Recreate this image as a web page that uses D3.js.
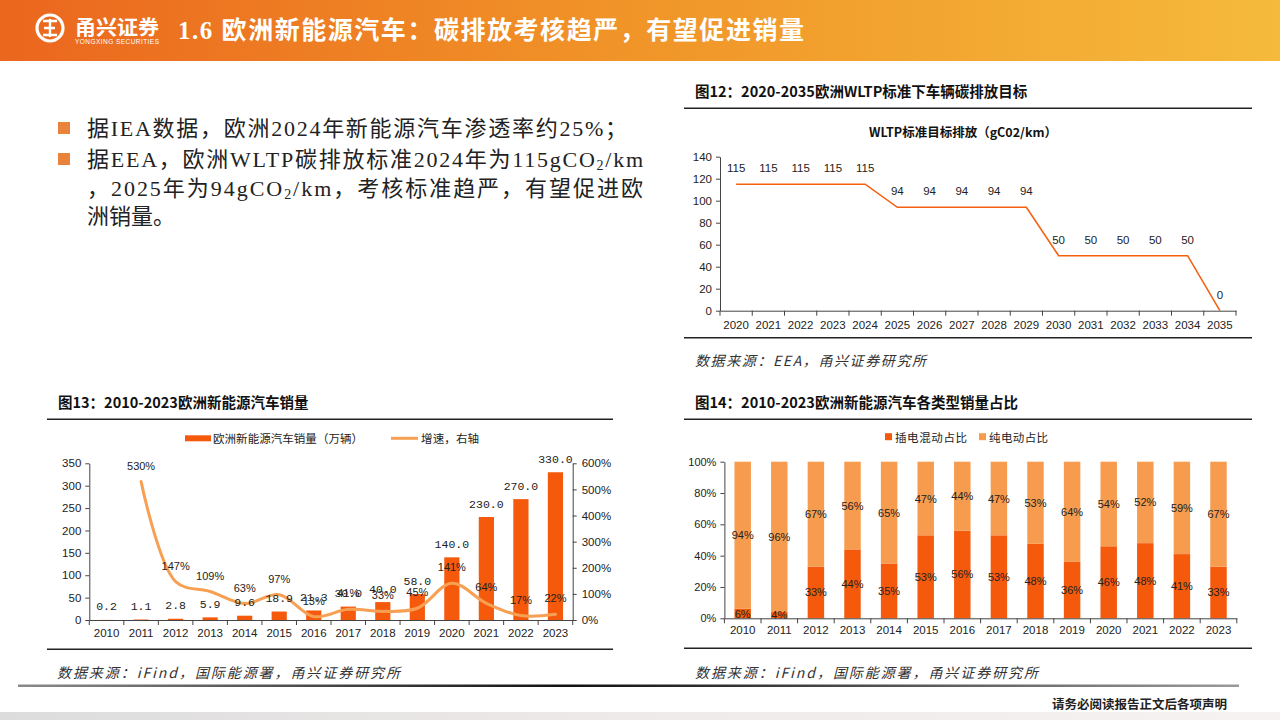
<!DOCTYPE html>
<html><head><meta charset="utf-8">
<script src="https://cdn.jsdelivr.net/npm/d3@7"></script>
<style>
html,body{margin:0;padding:0;background:#fff;}
svg{display:block;}
</style></head>
<body>
<svg id="c" width="1280" height="720"></svg>
<script>
// ---------- DATA ----------
const wltpYears = ['2020','2021','2022','2023','2024','2025','2026','2027','2028','2029','2030','2031','2032','2033','2034','2035'];
const wltpValues = [115,115,115,115,115,94,94,94,94,94,50,50,50,50,50,0];
const wltpTicks = [0,20,40,60,80,100,120,140];

const salesYears = ['2010','2011','2012','2013','2014','2015','2016','2017','2018','2019','2020','2021','2022','2023'];
const salesValues = [0.2,1.1,2.8,5.9,9.6,18.9,21.3,30.0,40.0,58.0,140.0,230.0,270.0,330.0];
const growthValues = [null,530,147,109,63,97,13,41,33,45,141,64,17,22];
const salesTicks = [0,50,100,150,200,250,300,350];
const growthTicks = [0,100,200,300,400,500,600];

const mixYears = ['2010','2011','2012','2013','2014','2015','2016','2017','2018','2019','2020','2021','2022','2023'];
const phevShare = [6,4,33,44,35,53,56,53,48,36,46,48,41,33];
const bevShare = [94,96,67,56,65,47,44,47,53,64,54,52,59,67];
const shareTicks = [0,20,40,60,80,100];

// ---------- STYLE ----------
const CJK = '"Noto Sans CJK SC","Noto Sans",sans-serif';
const SANS = '"Liberation Sans",Arial,"Noto Sans CJK SC",sans-serif';
const MONO = '"Liberation Mono","DejaVu Sans Mono",monospace';
const SERIF = '"Liberation Serif","Times New Roman","Noto Sans CJK SC",serif';
const cRed = '#F55A0C', cLight = '#F79C4E', cLine = '#F7A054';

const svg = d3.select('#c');
const defs = svg.append('defs');

// ---------- HEADER ----------
const hg = defs.append('linearGradient').attr('id','hdr').attr('x1','0').attr('x2','1').attr('y1','0').attr('y2','0');
hg.append('stop').attr('offset','0').attr('stop-color','#EB661E');
hg.append('stop').attr('offset','0.45').attr('stop-color','#F09127');
hg.append('stop').attr('offset','1').attr('stop-color','#F5BA3B');
svg.append('rect').attr('x',0).attr('y',0).attr('width',1280).attr('height',61).attr('fill','url(#hdr)');

// logo
const logo = svg.append('g').attr('fill','none').attr('stroke','#fff');
logo.append('circle').attr('cx',50).attr('cy',28).attr('r',13).attr('stroke-width',3.2);
logo.append('path').attr('d','M43 21 H57 M44 28 H55 M43 35 H57 M50 19 V37').attr('stroke-width',2.4);
svg.append('text').attr('x',75).attr('y',26).attr('dominant-baseline','central')
  .attr('font-family',CJK).attr('font-weight',700).attr('font-size',20).attr('fill','#fff')
  .attr('textLength',84).attr('lengthAdjust','spacingAndGlyphs').text('甬兴证券');
svg.append('text').attr('x',75).attr('y',41).attr('dominant-baseline','central')
  .attr('font-family',SANS).attr('font-size',6.5).attr('fill','#fff')
  .attr('textLength',84).text('YONGXING SECURITIES');
svg.append('text').attr('x',178).attr('y',30).attr('dominant-baseline','central')
  .attr('font-family',SERIF).attr('font-weight',700).attr('font-size',25).attr('fill','#fff')
  .attr('textLength',626).attr('lengthAdjust','spacing')
  .text('1.6 欧洲新能源汽车：碳排放考核趋严，有望促进销量');

// ---------- BULLETS ----------
const bullets = svg.append('g').attr('font-family',SERIF).attr('font-size',22).attr('fill','#222');
[[128],[159]].forEach(([y])=>{
  svg.append('rect').attr('x',58).attr('y',y-6).attr('width',12).attr('height',12).attr('fill','#E9833A');
});
function subText(g, y, parts, len){
  const t = g.append('text').attr('x',87).attr('y',y).attr('dominant-baseline','central');
  if(len) t.attr('textLength',len).attr('lengthAdjust','spacing');
  let sub=false;
  parts.forEach(p=>{
    if(typeof p==='string'){ const s=t.append('tspan').text(p); if(sub){s.attr('dy',-6); sub=false;} }
    else { t.append('tspan').attr('font-size',14).attr('dy',6).text(p.sub); sub=true; }
  });
  return t;
}
subText(bullets,128,['据IEA数据，欧洲2024年新能源汽车渗透率约25%；'],540);
subText(bullets,159,['据EEA，欧洲WLTP碳排放标准2024年为115gCO',{sub:'2'},'/km'],556);
subText(bullets,188,['，2025年为94gCO',{sub:'2'},'/km，考核标准趋严，有望促进欧'],556);
subText(bullets,216,['洲销量。']);

// ---------- helpers ----------
function hline(x1,x2,y,w,c){svg.append('line').attr('x1',x1).attr('x2',x2).attr('y1',y).attr('y2',y).attr('stroke',c||'#222').attr('stroke-width',w||1.5);}
function txt(x,y,s,opt){
  opt=opt||{};
  const t=svg.append('text').attr('x',x).attr('y',y).attr('dominant-baseline','central')
    .attr('font-family',opt.family||SANS).attr('font-size',opt.size||12).attr('fill',opt.fill||'#222')
    .attr('text-anchor',opt.anchor||'start').text(s);
  if(opt.weight) t.attr('font-weight',opt.weight);
  if(opt.italic) t.attr('font-style','italic');
  if(opt.len) t.attr('textLength',opt.len).attr('lengthAdjust',opt.adj||'spacing');
  return t;
}
function leftAxis(scale, x, ticks, fmt, size){
  const g = svg.append('g').attr('transform',`translate(${x},0)`)
    .call(d3.axisLeft(scale).tickValues(ticks).tickSize(4).tickSizeOuter(0).tickPadding(4).tickFormat(fmt));
  g.select('.domain').attr('stroke','#444');
  g.selectAll('.tick line').attr('stroke','#444');
  g.selectAll('text').attr('font-family',SANS).attr('font-size',size||11.5).attr('fill','#222');
  return g;
}
function rightAxis(scale, x, ticks, fmt, size){
  const g = svg.append('g').attr('transform',`translate(${x},0)`)
    .call(d3.axisRight(scale).tickValues(ticks).tickSize(4).tickSizeOuter(0).tickPadding(5).tickFormat(fmt));
  g.select('.domain').attr('stroke','#444');
  g.selectAll('.tick line').attr('stroke','#444');
  g.selectAll('text').attr('font-family',SANS).attr('font-size',size||11.5).attr('fill','#222');
  return g;
}
function bandAxis(xs, y, labelY, size){
  const [r0,r1] = xs.range();
  const g = svg.append('g').attr('transform',`translate(0,${y})`)
    .call(d3.axisBottom(xs).tickSize(0).tickSizeOuter(0).tickPadding(0));
  g.select('.domain').attr('stroke','#444');
  g.selectAll('.tick text').attr('y',labelY-y).attr('dy',null).attr('dominant-baseline','central')
    .attr('font-family',SANS).attr('font-size',size||11.5).attr('fill','#222');
  const n = xs.domain().length;
  const bx = xs.domain().map((d,i)=>r0 + i*((r1-r0)/n)).concat([r1]);
  g.selectAll('line.bt').data(bx).join('line').attr('class','bt')
    .attr('x1',d=>d).attr('x2',d=>d).attr('y1',0).attr('y2',5).attr('stroke','#444');
  return g;
}

// ---------- CHART 12 ----------
txt(695,90,'图12：2020-2035欧洲WLTP标准下车辆碳排放目标',{family:CJK,size:14.5,weight:700,fill:'#111'});
hline(684,1252,108.3,1.6);
txt(963,131.7,'WLTP标准目标排放（gC02/km）',{family:CJK,size:12.5,weight:700,anchor:'middle',fill:'#111'});
const x12 = d3.scaleBand().domain(wltpYears).range([720,1236]);
const y12 = d3.scaleLinear().domain([0,140]).range([310.7,156.7]);
leftAxis(y12,720,wltpTicks,d=>d,11.5);
bandAxis(x12,310.7,325,11.5);
svg.append('path').datum(wltpValues)
  .attr('d',d3.line().x((d,i)=>x12(wltpYears[i])+x12.bandwidth()/2).y(d=>y12(d)))
  .attr('fill','none').attr('stroke','#F5600F').attr('stroke-width',1.6);
svg.append('g').selectAll('text').data(wltpValues).join('text')
  .attr('x',(d,i)=>x12(wltpYears[i])+x12.bandwidth()/2).attr('y',d=>y12(d)-16)
  .attr('text-anchor','middle').attr('dominant-baseline','central')
  .attr('font-family',SANS).attr('font-size',11.5).attr('fill','#222').text(d=>d);
hline(684,1252,337.7,1.6);
txt(695,360,'数据来源：EEA，甬兴证券研究所',{family:CJK,size:14,italic:true,fill:'#333',len:231});

// ---------- CHART 13 ----------
txt(58,401.7,'图13：2010-2023欧洲新能源汽车销量',{family:CJK,size:14.5,weight:700,fill:'#111'});
hline(47,613,419.3,1.6);
svg.append('rect').attr('x',185).attr('y',435.3).attr('width',26).attr('height',6).attr('fill',cRed);
txt(213,438.3,'欧洲新能源汽车销量（万辆）',{family:CJK,size:11.5,fill:'#222',len:150});
svg.append('line').attr('x1',391).attr('x2',418).attr('y1',438.3).attr('y2',438.3).attr('stroke',cLine).attr('stroke-width',3);
txt(421,438.3,'增速，右轴',{family:CJK,size:11.5,fill:'#222',len:58});

const x13 = d3.scaleBand().domain(salesYears).range([89.3,572.7]).paddingInner(0.56).paddingOuter(0.28);
const y13 = d3.scaleLinear().domain([0,350]).range([620,463.3]);
const y13r = d3.scaleLinear().domain([0,600]).range([620,463.3]);
svg.append('g').selectAll('rect').data(salesValues).join('rect')
  .attr('x',(d,i)=>x13(salesYears[i])).attr('width',x13.bandwidth())
  .attr('y',d=>y13(d)).attr('height',d=>620-y13(d)).attr('fill',cRed);
leftAxis(y13,89.3,salesTicks,d=>d,11.5);
rightAxis(y13r,572.7,growthTicks,d=>d+'%',11.5);
bandAxis(x13,620,632.7,11.5);
const gp = growthValues.map((v,i)=>v==null?null:[x13(salesYears[i])+x13.bandwidth()/2, y13r(v)]).filter(d=>d);
svg.append('path').datum(gp).attr('d',d3.line().curve(d3.curveCatmullRom.alpha(0.5)))
  .attr('fill','none').attr('stroke',cLine).attr('stroke-width',3).attr('stroke-linecap','round');
svg.append('g').selectAll('text').data(salesValues).join('text')
  .attr('x',(d,i)=>x13(salesYears[i])+x13.bandwidth()/2).attr('y',d=>y13(d)-13)
  .attr('text-anchor','middle').attr('dominant-baseline','central')
  .attr('font-family',MONO).attr('font-size',11.5).attr('fill','#222').text(d=>d.toFixed(1));
svg.append('g').selectAll('text').data(growthValues.map((v,i)=>[v,i]).filter(d=>d[0]!=null)).join('text')
  .attr('x',d=>x13(salesYears[d[1]])+x13.bandwidth()/2).attr('y',d=>y13r(d[0])-16)
  .attr('text-anchor','middle').attr('dominant-baseline','central')
  .attr('font-family',SANS).attr('font-size',11).attr('fill','#222').text(d=>d[0]+'%');
hline(47,613,649.3,1.6);
txt(57,672,'数据来源：iFind，国际能源署，甬兴证券研究所',{family:CJK,size:14,italic:true,fill:'#333',len:343});

// ---------- CHART 14 (100% stacked) ----------
txt(695,401.7,'图14：2010-2023欧洲新能源汽车各类型销量占比',{family:CJK,size:14.5,weight:700,fill:'#111'});
hline(684,1252,419.3,1.6);
svg.append('rect').attr('x',885).attr('y',433.2).attr('width',7).attr('height',7).attr('fill',cRed);
txt(895,436.7,'插电混动占比',{family:CJK,size:11.5,fill:'#222',len:72});
svg.append('rect').attr('x',979).attr('y',433.2).attr('width',7).attr('height',7).attr('fill',cLight);
txt(989,436.7,'纯电动占比',{family:CJK,size:11.5,fill:'#222',len:59});

const x14 = d3.scaleBand().domain(mixYears).range([724.4,1236.8]).paddingInner(0.55).paddingOuter(0.275);
const y14 = d3.scaleLinear().domain([0,100]).range([618.3,461.7]);
const mixRows = mixYears.map((y,i)=>({year:y, phev:phevShare[i], bev:bevShare[i]}));
const stacked = d3.stack().keys(['phev','bev']).offset(d3.stackOffsetExpand)(mixRows);
const g14 = svg.append('g');
const cols = {phev:cRed, bev:cLight};
stacked.forEach(layer=>{
  g14.selectAll(null).data(layer).join('rect')
    .attr('x',d=>x14(d.data.year)).attr('width',x14.bandwidth())
    .attr('y',d=>y14(d[1]*100)).attr('height',d=>y14(d[0]*100)-y14(d[1]*100)).attr('fill',cols[layer.key]);
});
leftAxis(y14,724.4,shareTicks,d=>d+'%',11);
bandAxis(x14,618.3,630,11.5);
stacked.forEach(layer=>{
  g14.selectAll(null).data(layer).join('text')
    .attr('x',d=>x14(d.data.year)+x14.bandwidth()/2).attr('y',d=>y14((d[0]+d[1])*50))
    .attr('text-anchor','middle').attr('dominant-baseline','central')
    .attr('font-family',SANS).attr('font-size',11).attr('fill','#222').text(d=>d.data[layer.key]+'%');
});
hline(684,1252,648.3,1.6);
txt(695,672,'数据来源：iFind，国际能源署，甬兴证券研究所',{family:CJK,size:14,italic:true,fill:'#333',len:343});

// ---------- FOOTER ----------
const fg = defs.append('linearGradient').attr('id','fl').attr('x1','0').attr('x2','1');
fg.append('stop').attr('offset','0').attr('stop-color','#8a8a8a');
fg.append('stop').attr('offset','0.45').attr('stop-color','#111');
fg.append('stop').attr('offset','1').attr('stop-color','#9a9a9a');
svg.append('rect').attr('x',18).attr('y',684.5).attr('width',1221).attr('height',2.5).attr('fill','url(#fl)');
txt(1227,703,'请务必阅读报告正文后各项声明',{family:CJK,size:12.5,weight:700,anchor:'end',fill:'#222'});
const bg = defs.append('linearGradient').attr('id','bb').attr('x1','0').attr('x2','1');
bg.append('stop').attr('offset','0').attr('stop-color','#dcdcdc');
bg.append('stop').attr('offset','0.5').attr('stop-color','#efeaea');
bg.append('stop').attr('offset','1').attr('stop-color','#f6f2f2');
svg.append('rect').attr('x',0).attr('y',712).attr('width',1280).attr('height',8).attr('fill','url(#bb)');
</script>
</body></html>
